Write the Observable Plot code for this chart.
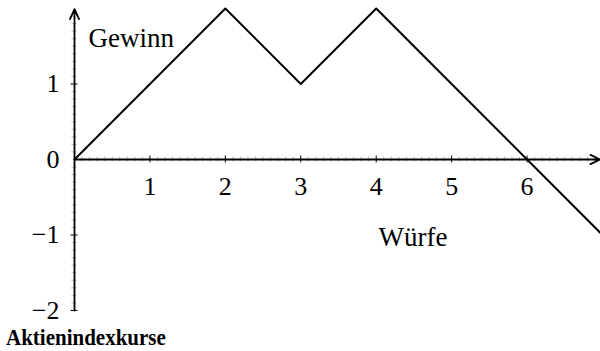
<!DOCTYPE html>
<html>
<head>
<meta charset="utf-8">
<script src="https://cdn.jsdelivr.net/npm/d3@7"></script>
<script src="https://cdn.jsdelivr.net/npm/@observablehq/plot@0.6"></script>
<style>
  html, body { margin: 0; padding: 0; background: #fff; }
  #chart svg { display: block; }
  #caption { font-family: "Liberation Serif", serif; font-weight: bold; font-size: 21px; line-height: 22px; margin-top: 1px; padding-left: 6px; color: #000; transform: scaleY(1.12); transform-origin: left top; }
</style>
</head>
<body>
<div id="chart"></div>
<div id="caption">Aktienindexkurse</div>
<script>
// Data
const wuerfe = [0, 2, 3, 4, 7];
const gewinn = [0, 2, 1, 2, -1];
const xTickValues = [1, 2, 3, 4, 5, 6];
const yTickValues = [-2, -1, 0, 1];
const yTickLabels = ["\u22122", "\u22121", "0", "1"];
const xAxisExtent = [0, 6.97];
const yAxisExtent = [-2, 1.99];

const xMinor = d3.range(1, 70).map(i => i / 10).filter(v => Math.abs(v - Math.round(v)) > 1e-9);
const yMinor = d3.range(-19, 20).map(i => i / 10).filter(v => Math.abs(v - Math.round(v)) > 1e-9);
const xMajor = [1, 2, 3, 4, 5, 6];
const yMajor = [-2, -1, 1];

const lineData = wuerfe.map((x, i) => ({x, y: gewinn[i]}));
const font = "Liberation Serif";

const chart = Plot.plot({
  width: 600,
  height: 324,
  style: {fontFamily: font, background: "#fff"},
  x: {domain: [0, 7], range: [74, 602], axis: null},
  y: {domain: [-2, 2], range: [310, 8], axis: null},
  marks: [
    // minor ticks
    Plot.ruleX(xMinor, {x: d => d, y1: 0, y2: 0, insetTop: -2.5, insetBottom: -2.5, stroke: "#aaa", strokeWidth: 0.8}),
    Plot.ruleY(yMinor, {y: d => d, x1: 0, x2: 0, insetLeft: -2.5, insetRight: -2.5, stroke: "#aaa", strokeWidth: 0.8}),
    // major ticks
    Plot.ruleX(xMajor, {x: d => d, y1: 0, y2: 0, insetTop: -3.5, insetBottom: -3.5, stroke: "#000", strokeWidth: 1}),
    Plot.ruleY(yMajor, {y: d => d, x1: 0, x2: 0, insetLeft: -3.5, insetRight: -3.5, stroke: "#000", strokeWidth: 1}),
    // axes
    Plot.arrow([0], {x1: xAxisExtent[0], x2: xAxisExtent[1], y1: 0, y2: 0, stroke: "#000", strokeWidth: 1.8, headLength: 9, headAngle: 50}),
    Plot.arrow([0], {x1: 0, x2: 0, y1: yAxisExtent[0], y2: yAxisExtent[1], stroke: "#000", strokeWidth: 1.8, headLength: 9, headAngle: 50}),
    // tick labels
    Plot.text(xTickValues, {x: d => d, y: 0, text: d => String(d), dy: 27, fontSize: 26, fill: "#000"}),
    Plot.text(yTickValues, {x: 0, y: d => d, text: (d, i) => yTickLabels[i], dx: -15, textAnchor: "end", fontSize: 26, fill: "#000"}),
    // data line
    Plot.line(lineData, {x: "x", y: "y", stroke: "#000", strokeWidth: 2}),
    // axis titles
    Plot.text(["Gewinn"], {x: 0.186, y: 1.607, text: d => d, textAnchor: "start", fontSize: 27, fill: "#000"}),
    Plot.text(["Würfe"], {x: 4.03, y: -1.03, text: d => d, textAnchor: "start", fontSize: 27, fill: "#000"})
  ]
});
document.getElementById("chart").appendChild(chart);
</script>
</body>
</html>
